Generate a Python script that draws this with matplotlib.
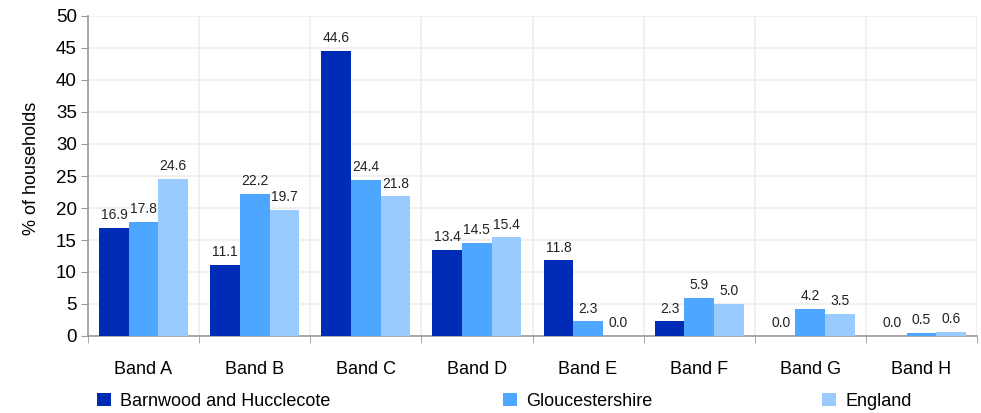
import matplotlib
matplotlib.use("Agg")
import matplotlib.pyplot as plt
import numpy as np

categories = ["Band A", "Band B", "Band C", "Band D", "Band E", "Band F", "Band G", "Band H"]
barnwood = [16.9, 11.1, 44.6, 13.4, 11.8, 2.3, 0.0, 0.0]
glos = [17.8, 22.2, 24.4, 14.5, 2.3, 5.9, 4.2, 0.5]
england = [24.6, 19.7, 21.8, 15.4, 0.0, 5.0, 3.5, 0.6]
series_names = ["Barnwood and Hucclecote", "Gloucestershire", "England"]
colors = ["#002BB5", "#4DA6FF", "#9ACBFF"]

plt.rcParams['font.family'] = ['Liberation Sans', 'DejaVu Sans']

fig = plt.figure(figsize=(9.81, 4.13), dpi=100)
ax = fig.add_axes([88/981, 1-336/413, 889/981, 320/413])

x = np.arange(len(categories))
w = 0.267
offsets = [-w, 0, w]
for vals, off, c, name in zip([barnwood, glos, england], offsets, colors, series_names):
    bars = ax.bar(x + off, vals, width=w, color=c, label=name, zorder=3)
    for b, v in zip(bars, vals):
        ax.text(b.get_x() + b.get_width()/2, v + 0.9, f"{v:.1f}", ha='center', va='bottom',
                fontsize=10, color='#222222', zorder=4)

ax.set_xlim(-0.5, len(categories) - 0.5)
ax.set_ylim(0, 50)
ax.set_yticks(np.arange(0, 51, 5))
ax.set_xticks(x)
ax.set_xticklabels(categories, fontsize=13)
ax.set_xticks(np.arange(-0.5, len(categories), 1), minor=True)
ax.tick_params(axis='x', which='major', length=0, pad=18)
ax.tick_params(axis='x', which='minor', length=5, color='#999999', direction='out')
ax.tick_params(axis='y', labelsize=13.5, length=5, color='#999999', direction='out', pad=3)

ax.grid(axis='y', color='#eeeeee', linewidth=1.2, zorder=0)
ax.grid(axis='x', which='minor', color='#eeeeee', linewidth=1.2, zorder=0)
for s in ['top', 'right']:
    ax.spines[s].set_visible(False)
for s in ['left', 'bottom']:
    ax.spines[s].set_color('#999999')
    ax.spines[s].set_linewidth(1.2)

ax.set_ylabel("% of households", fontsize=13)
ax.yaxis.set_label_coords(-48/889, 0.525)

# legend entries
handles, labels = ax.get_legend_handles_labels()
leg_x = [97/981, 503/981, 822/981]
for h, l, lx in zip(handles, labels, leg_x):
    fig.legend([h], [l], loc='center left', bbox_to_anchor=(lx, 1 - 401/413),
               frameon=False, fontsize=13, handlelength=0.75, handleheight=0.75,
               handletextpad=0.55, borderaxespad=0, borderpad=0)

fig.savefig("out.png", dpi=100)
